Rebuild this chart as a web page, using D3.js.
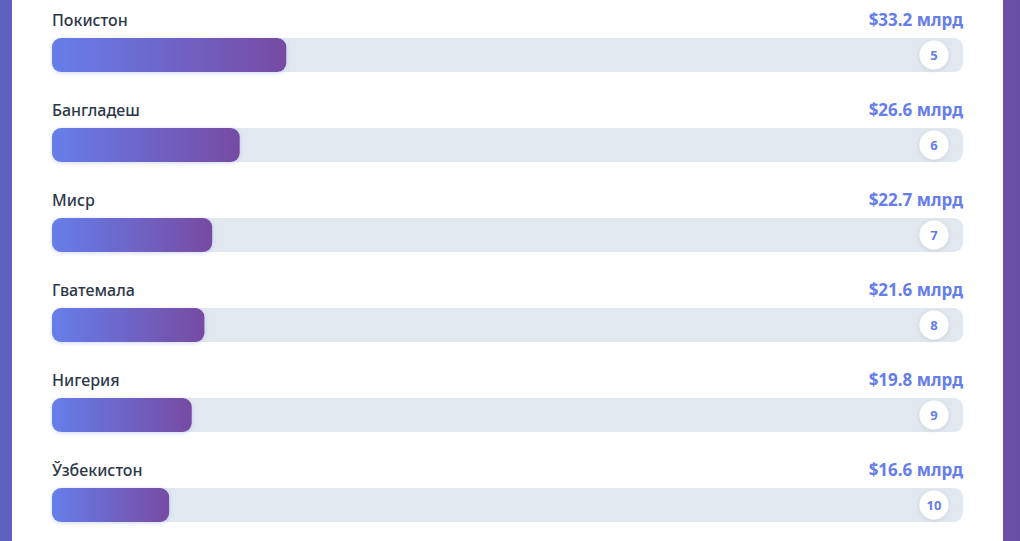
<!DOCTYPE html>
<html><head><meta charset="utf-8">
<script src="https://cdn.jsdelivr.net/npm/d3@7/dist/d3.min.js"></script>
<style>
html,body{margin:0;padding:0;width:1020px;height:541px;overflow:hidden;background:linear-gradient(90deg,#5d63c0 0%,#6a4fa5 100%);}
</style></head><body>
<svg id="c" width="1020" height="541"></svg>
<script>
const countries = ["Покистон","Бангладеш","Миср","Гватемала","Нигерия","Ўзбекистон"];
const values = [33.2,26.6,22.7,21.6,19.8,16.6];
const ranks = [5,6,7,8,9,10];
const maxValue = 129.1;
const valueLabels = values.map(v => "$" + v.toFixed(1) + " млрд");

const svg = d3.select("#c");
const defs = svg.append("defs");
const g1 = defs.append("linearGradient").attr("id","bg").attr("x1","0%").attr("x2","100%");
g1.append("stop").attr("offset","0%").attr("stop-color","#667eea");
g1.append("stop").attr("offset","100%").attr("stop-color","#764ba2");
const f = defs.append("filter").attr("id","sh").attr("x","-50%").attr("y","-50%").attr("width","200%").attr("height","200%");
f.append("feDropShadow").attr("dx",0).attr("dy",1).attr("stdDeviation",2).attr("flood-color","#000").attr("flood-opacity",0.12);
const fb = defs.append("filter").attr("id","bsh").attr("x","-10%").attr("y","-50%").attr("width","120%").attr("height","200%");
fb.append("feDropShadow").attr("dx",0).attr("dy",1).attr("stdDeviation",2).attr("flood-color","#667eea").attr("flood-opacity",0.3);

svg.append("rect").attr("x",12).attr("y",0).attr("width",991).attr("height",541).attr("fill","#ffffff");

const left = 52, right = 963;
const x = d3.scaleLinear().domain([0,maxValue]).range([0,right-left]);
const y = d3.scaleBand().domain(countries).range([0,540]).paddingInner(0).paddingOuter(0);

const rows = svg.selectAll("g.row").data(countries).join("g").attr("class","row")
  .attr("transform",d => `translate(0,${y(d)})`);

rows.append("text").attr("x",left).attr("y",25.5).text(d=>d)
  .attr("font-family","'Noto Sans','Open Sans',sans-serif").attr("font-size",16).attr("font-weight",500).attr("fill","#2d3748");
rows.append("text").attr("x",right).attr("y",25.5).attr("text-anchor","end").text((d,i)=>valueLabels[i])
  .attr("font-family","'Noto Sans','Open Sans',sans-serif").attr("font-size",17).attr("font-weight",700).attr("fill","#667eea");
rows.append("rect").attr("x",left).attr("y",38).attr("width",right-left).attr("height",34).attr("rx",9)
  .attr("fill","#e2e8f0");
rows.append("rect").attr("x",left).attr("y",38).attr("width",(d,i)=>x(values[i])).attr("height",34).attr("rx",9)
  .attr("fill","url(#bg)").attr("filter","url(#bsh)");
rows.append("circle").attr("cx",934).attr("cy",55).attr("r",14.5).attr("fill","#fff").attr("filter","url(#sh)");
rows.append("text").attr("x",934).attr("y",60).attr("text-anchor","middle").text((d,i)=>ranks[i])
  .attr("font-family","'Noto Sans','Open Sans',sans-serif").attr("font-size",13).attr("font-weight",700).attr("fill","#667eea");
</script></body></html>
